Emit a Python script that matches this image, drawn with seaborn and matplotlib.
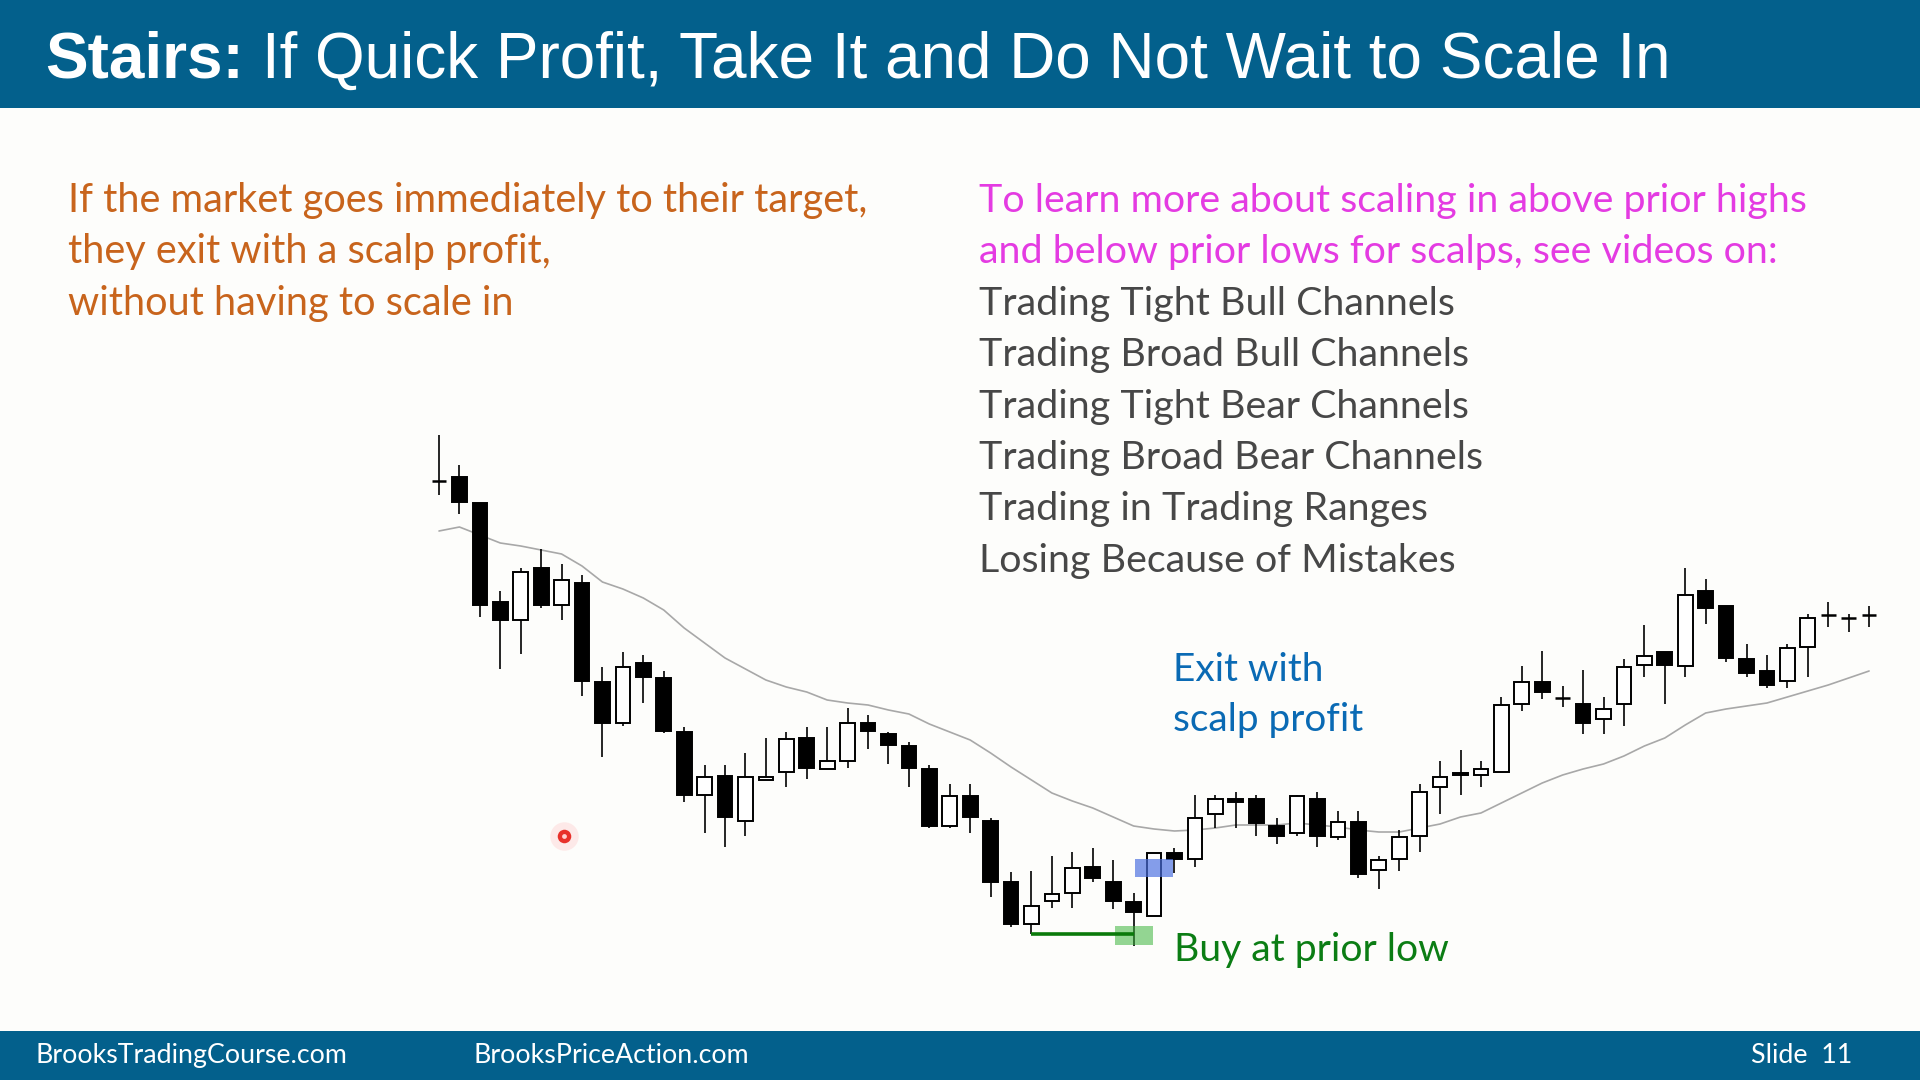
import numpy as np
import pandas as pd
import matplotlib
matplotlib.use("Agg")
import matplotlib.pyplot as plt
import seaborn as sns
from matplotlib.patches import Rectangle

# ---------------- data ----------------
opens = [599, 603, 577, 478, 460, 512, 475, 497, 398, 357,
         417, 402, 348, 285, 304, 259, 300, 308, 342, 311,
         319, 357, 346, 334, 311, 254, 284, 259, 198, 156,
         179, 187, 213, 198, 178, 164, 227, 221, 266, 281,
         281, 254, 247, 281, 243, 258, 210, 221, 244, 293,
         307, 305, 308, 376, 398, 382, 376, 361, 376, 415,
         428, 414, 489, 474, 421, 409, 399, 433, 465, 462, 465]
highs = [645, 615, 577, 489, 512, 531, 516, 505, 413, 428,
         425, 409, 353, 315, 315, 327, 342, 348, 353, 353,
         372, 365, 348, 338, 315, 296, 296, 262, 208, 209,
         224, 228, 232, 220, 187, 227, 232, 285, 285, 288,
         285, 262, 285, 288, 269, 269, 224, 250, 296, 319,
         330, 319, 383, 414, 429, 394, 410, 383, 421, 455,
         428, 512, 501, 474, 436, 425, 436, 466, 478, 466, 474]
lows = [585, 566, 463, 411, 426, 472, 460, 384, 323, 354,
        377, 347, 278, 247, 233, 244, 300, 293, 301, 311,
        312, 331, 316, 293, 252, 252, 247, 183, 153, 146,
        172, 172, 198, 171, 134, 164, 207, 213, 252, 252,
        244, 236, 244, 233, 240, 202, 191, 209, 228, 266,
        285, 293, 308, 369, 381, 373, 346, 346, 354, 403,
        376, 403, 456, 418, 403, 392, 392, 403, 453, 448, 453]
closes = [599, 578, 475, 460, 508, 475, 500, 399, 357, 413,
          403, 349, 285, 303, 263, 303, 303, 341, 312, 319,
          357, 349, 335, 312, 254, 284, 263, 198, 156, 174,
          186, 212, 202, 179, 168, 227, 221, 262, 281, 278,
          257, 244, 284, 244, 258, 206, 220, 243, 288, 303,
          305, 311, 375, 398, 388, 382, 357, 371, 413, 424,
          415, 485, 472, 422, 407, 395, 432, 462, 465, 462, 465]
moving_average = [549, 553, 545, 537, 534, 530, 526, 514, 498, 491,
                  482, 470, 452, 437, 422, 411, 400, 393, 388, 380,
                  377, 375, 370, 366, 356, 348, 340, 327, 313, 300,
                  287, 279, 272, 263, 254, 251, 249, 250, 252, 255,
                  255, 255, 257, 255, 253, 250, 248, 248, 252, 256,
                  263, 267, 277, 287, 297, 305, 311, 316, 324, 334,
                  342, 355, 367, 371, 374, 377, 383, 389, 395, 402, 409]

title_bold = "Stairs:"
title_rest = "If Quick Profit, Take It and Do Not Wait to Scale In"
left_lines = ["If the market goes immediately to their target,",
              "they exit with a scalp profit,",
              "without having to scale in"]
right_magenta = ["To learn more about scaling in above prior highs",
                 "and below prior lows for scalps, see videos on:"]
right_gray = ["Trading Tight Bull Channels",
              "Trading Broad Bull Channels",
              "Trading Tight Bear Channels",
              "Trading Broad Bear Channels",
              "Trading in Trading Ranges",
              "Losing Because of Mistakes"]
exit_label = ["Exit with", "scalp profit"]
buy_label = "Buy at prior low"
footer = ["BrooksTradingCourse.com", "BrooksPriceAction.com", "Slide  11"]

# ---------------- style ----------------
sns.set_theme(style="white")
plt.rcParams['font.family'] = ['Lato', 'DejaVu Sans']

BG = "#fdfdfb"
BAR = "#03608c"

W, H = 1920, 1080
fig = plt.figure(figsize=(19.2, 10.8), dpi=100, facecolor=BG)

# chart axes: candle index -> pixel x, price -> pixel height
x0_px, step_px = 439.0, 20.43
ax = fig.add_axes([0, 0, 1, 1], zorder=1)
ax.set_xlim(-x0_px / step_px, (W - x0_px) / step_px)
ax.set_ylim(0, H)
ax.axis("off")
ax.patch.set_alpha(0)

o = np.array(opens, float); h = np.array(highs, float)
l = np.array(lows, float); c = np.array(closes, float)
x = np.arange(len(o))
bull = c > o
bear = c < o
doji = c == o
bw = 0.72

sns.lineplot(x=x, y=moving_average, ax=ax, color="#a8a8a8", lw=1.2, zorder=1)
ax.vlines(x, l, h, color="black", lw=1.2, zorder=2)
ax.bar(x[bull], (c - o)[bull], bottom=o[bull], width=bw, color="white",
       edgecolor="black", linewidth=1.4, zorder=3)
ax.bar(x[bear], (o - c)[bear], bottom=c[bear], width=bw, color="black",
       edgecolor="black", linewidth=1.4, zorder=3)
ax.hlines(o[doji], x[doji] - bw / 2, x[doji] + bw / 2, color="black", lw=1.8, zorder=3)

# annotations
ax.add_patch(Rectangle((34.07, 202.7), 1.87, 18, facecolor="#4a6fe0", alpha=0.68,
                       edgecolor="none", zorder=4))
ax.add_patch(Rectangle((33.09, 135), 1.87, 19, facecolor="#3cb43c", alpha=0.55,
                       edgecolor="none", zorder=4))
ax.hlines(lows[29], 29, 34, color="#0a7a0a", lw=2.6, zorder=5)

# overlay axes in pixel coordinates for slide decoration and text
ov = fig.add_axes([0, 0, 1, 1], zorder=2)
ov.set_xlim(0, W)
ov.set_ylim(H, 0)
ov.axis("off")
ov.patch.set_alpha(0)

ov.add_patch(Rectangle((0, 0), W, 108, facecolor=BAR, edgecolor="none"))
ov.add_patch(Rectangle((0, 1031), W, 49, facecolor=BAR, edgecolor="none"))

renderer = fig.canvas.get_renderer()


def width_of(t):
    return t.get_window_extent(renderer).width


def fit(t, target):
    t.set_fontsize(t.get_fontsize() * target / width_of(t))
    return t.get_fontsize()


# title
title_family = ["Liberation Sans Narrow", "Liberation Sans", "DejaVu Sans"]
tr = ov.text(262, 78, title_rest, color="white", fontsize=40,
             family=title_family, va="baseline")
ts = fit(tr, 1407)
tb = ov.text(45, 78, title_bold, color="white", fontsize=ts, fontweight="bold",
             family=title_family, va="baseline")

# left orange block
orange = "#c8641c"
t = ov.text(68, 212, left_lines[0], color=orange, fontsize=30, va="baseline")
fs = fit(t, 800)
for i, s in enumerate(left_lines[1:], start=1):
    ov.text(68, 212 + 51.4 * i, s, color=orange, fontsize=fs, va="baseline")

# right block
magenta = "#e43be2"
gray = "#474747"
t = ov.text(979, 212, right_magenta[0], color=magenta, fontsize=30, va="baseline")
fs = fit(t, 829)
ov.text(979, 212 + 51.4, right_magenta[1], color=magenta, fontsize=fs, va="baseline")
for i, s in enumerate(right_gray):
    ov.text(979, 212 + 51.4 * (i + 2), s, color=gray, fontsize=fs, va="baseline")

# chart labels
blue = "#0a6ab4"
t = ov.text(1173, 731, exit_label[1], color=blue, fontsize=28, va="baseline")
fb = fit(t, 190)
ov.text(1173, 681, exit_label[0], color=blue, fontsize=fb, va="baseline")
t = ov.text(1174, 961, buy_label, color="#0b7d14", fontsize=28, va="baseline")
fit(t, 275)

# footer
t = ov.text(35, 1063, footer[0], color="white", fontsize=18, va="baseline")
ff = fit(t, 311)
ov.text(474, 1063, footer[1], color="white", fontsize=ff, va="baseline")
ov.text(1751, 1063, footer[2], color="white", fontsize=ff, va="baseline")

# laser pointer dot
ov.scatter([564], [836], s=420, color="#ff6060", alpha=0.12, linewidths=0)
ov.scatter([564], [836], s=95, color="#e8302a", linewidths=0)
ov.scatter([564], [836], s=12, color="#ffd0d0", linewidths=0)

fig.savefig("out.png", dpi=100, facecolor=BG)
